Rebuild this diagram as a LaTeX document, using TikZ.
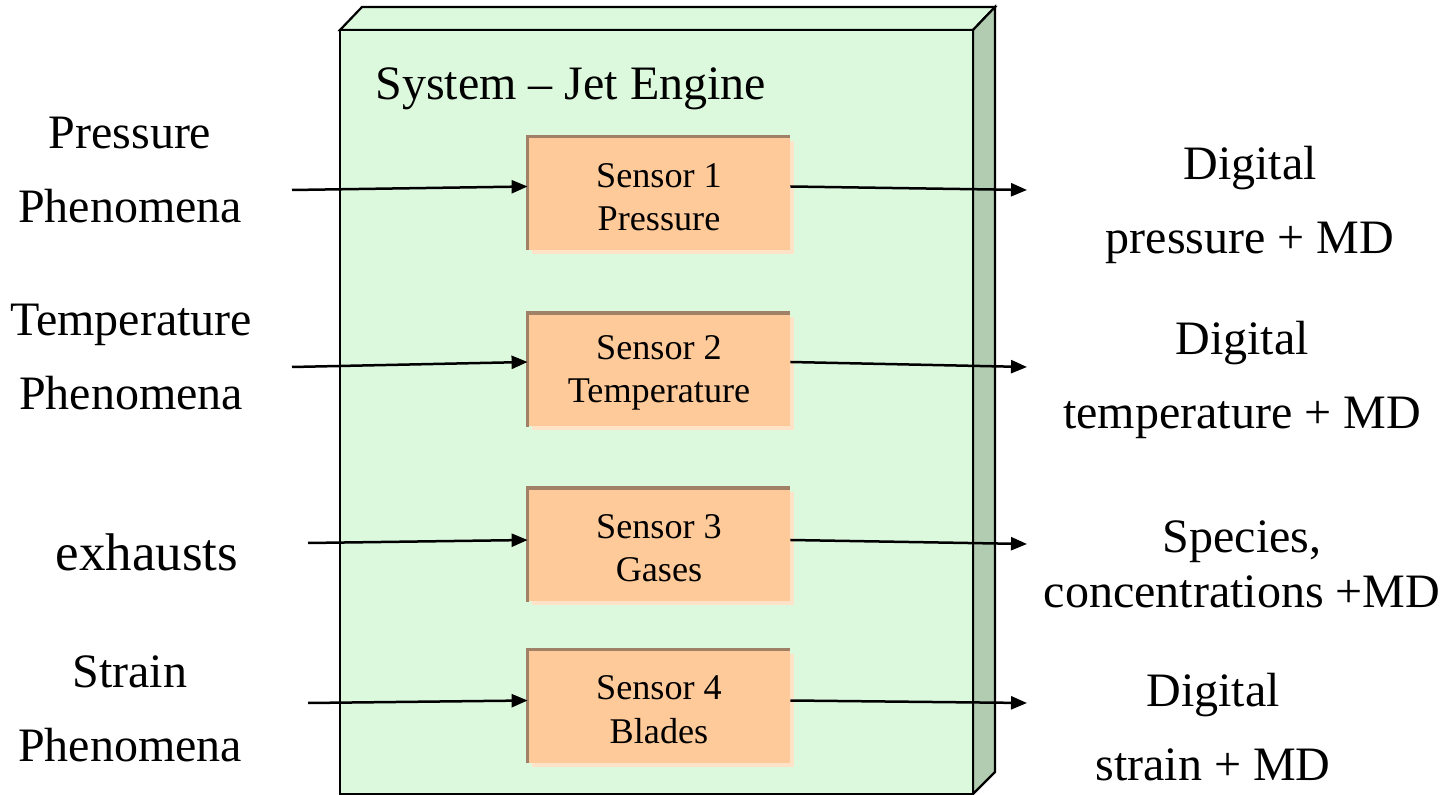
\documentclass[tikz,border=0pt]{standalone}
\usepackage{fontspec}
\setmainfont{Liberation Serif}
\usetikzlibrary{arrows.meta,calc,shadows}

\definecolor{frontgreen}{HTML}{DDF9DD}
\definecolor{sidegreen}{HTML}{B2CCB2}
\definecolor{sensorfill}{HTML}{FFCA99}
\definecolor{sensoredge}{HTML}{A08066}
\definecolor{sensorshade}{HTML}{FFE3C8}

\begin{document}
\begin{tikzpicture}[x=0.5pt,y=-0.5pt,
  casing/.style={draw=black, line width=1.1pt, line join=miter},
  sensorbox/.style={fill=sensorfill, minimum width=131pt, minimum height=56.5pt,
    inner sep=0pt, align=center, font=\fontsize{18.1}{21.7}\selectfont,
    drop shadow={shadow xshift=2pt, shadow yshift=-2pt, fill=sensorshade, opacity=1}},
  edgeline/.style={draw=sensoredge, line width=1.6pt},
  label/.style={align=center, inner sep=0pt, font=\fontsize{24}{37}\selectfont},
  flow/.style={draw=black, line width=1.25pt, -{Triangle[length=8pt,width=6.5pt]}}]

\useasboundingbox (0,0) rectangle (1450,795);
\fill[white] (0,0) rectangle (1450,795);

% jet engine casing drawn as a box in perspective
\filldraw[casing, fill=frontgreen] (340,30) -- (362,7) -- (995,7) -- (973,30) -- cycle;
\filldraw[casing, fill=sidegreen] (973,30) -- (995,7) -- (995,772) -- (973,794) -- cycle;
\filldraw[casing, fill=frontgreen] (340,30) rectangle (973,794);

\node[anchor=base west, inner sep=0pt, font=\fontsize{24}{28}\selectfont] (title) at (375,100) {System -- Jet Engine};

% sensors
\node[sensorbox] (s1) at (659,193.5) {};
\node[sensorbox] (s2) at (659,370) {};
\node[sensorbox] (s3) at (659,545) {};
\node[sensorbox] (s4) at (659,706.5) {};
\foreach \s in {s1,s2,s3,s4}{
  \draw[edgeline] (\s.south west) -- (\s.north west) -- (\s.north east);
}
\node[align=center, font=\fontsize{18.1}{21.7}\selectfont] (t1) at (659,197) {Sensor 1\\Pressure};
\node[align=center, font=\fontsize{18.1}{21.7}\selectfont] (t2) at (659,373) {Sensor 2\\Temperature};
\node[align=center, font=\fontsize{18.1}{21.7}\selectfont] (t3) at (659,548) {Sensor 3\\Gases};
\node[align=center, font=\fontsize{18.1}{21.7}\selectfont] (t4) at (659,709.5) {Sensor 4\\Blades};

% phenomena entering the engine
\node[label] (p1) at (130,170) {Pressure\\Phenomena};
\node[label] (p2) at (131,357) {Temperature\\Phenomena};
\node[label, font=\fontsize{26.5}{30}\selectfont] (p3) at (147,552) {exhausts};
\node[label] (p4) at (130,709) {Strain\\Phenomena};

% digital outputs
\node[label] (o1) at (1250,205) {Digital\\pressure + MD};
\node[label] (o2) at (1242,380) {Digital\\temperature + MD};
\node[label, font=\fontsize{24}{27.5}\selectfont] (o3) at (1242,564) {Species,\\concentrations +MD};
\node[label] (o4) at (1213,727) {Digital\\strain + MD};

% signal flow
\coordinate (i1) at (292,190);
\coordinate (i2) at (292,367);
\coordinate (i3) at (308,543);
\coordinate (i4) at (308,703);
\coordinate (e1) at (1027,190);
\coordinate (e2) at (1027,367);
\coordinate (e3) at (1027,544);
\coordinate (e4) at (1027,703);

\draw[flow] (i1) -- ($(s1.west)+(0,-7)$);
\draw[flow] (i2) -- ($(s2.west)+(0,-8)$);
\draw[flow] (i3) -- ($(s3.west)+(0,-5)$);
\draw[flow] (i4) -- ($(s4.west)+(0,-6)$);
\draw[flow] ($(s1.east)+(0,-7)$) -- (e1);
\draw[flow] ($(s2.east)+(0,-8)$) -- (e2);
\draw[flow] ($(s3.east)+(0,-5)$) -- (e3);
\draw[flow] ($(s4.east)+(0,-6)$) -- (e4);

\end{tikzpicture}
\end{document}
